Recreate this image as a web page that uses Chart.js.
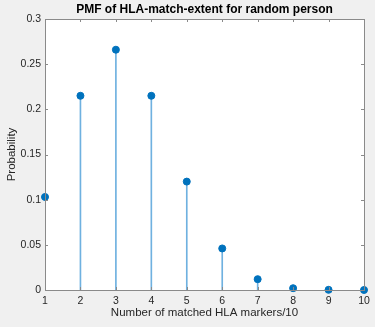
<!DOCTYPE html>
<html>
<head>
<meta charset="utf-8">
<script src="https://cdn.jsdelivr.net/npm/chart.js@4/dist/chart.umd.min.js"></script>
<style>
  html, body { margin: 0; padding: 0; background: #f0f0f0; }
  #wrap { width: 375px; height: 327px; }
</style>
</head>
<body>
<div id="wrap"><canvas id="pmf" width="375" height="327"></canvas></div>
<script>
// matched markers (x) and their probabilities
const markers = [1, 2, 3, 4, 5, 6, 7, 8, 9, 10];
const probs = [0.103, 0.215, 0.266, 0.215, 0.120, 0.046, 0.012, 0.002, 0.0002, 0.00001];
const yTicks = [0, 0.05, 0.1, 0.15, 0.2, 0.25, 0.3];
const titleText = "PMF of HLA-match-extent for random person";

const points = markers.map((m, i) => ({ x: m, y: probs[i] }));

// white plot box, full frame, inward ticks and a title centred on the axes
const axesBox = {
  id: "axesBox",
  beforeDraw(chart) {
    const { ctx, chartArea: a } = chart;
    ctx.save();
    ctx.fillStyle = "#ffffff";
    ctx.fillRect(a.left, a.top, a.right - a.left, a.bottom - a.top);
    ctx.restore();
  },
  afterDatasetsDraw(chart) {
    const { ctx, chartArea: a, scales } = chart;
    ctx.save();
    ctx.strokeStyle = "#8a8a8a";
    ctx.lineWidth = 1;
    ctx.beginPath();
    markers.forEach((m) => {
      const px = Math.round(scales.x.getPixelForValue(m)) + 0.5;
      ctx.moveTo(px, a.bottom);
      ctx.lineTo(px, a.bottom - 3);
      ctx.moveTo(px, a.top);
      ctx.lineTo(px, a.top + 3);
    });
    yTicks.forEach((t) => {
      const py = Math.round(scales.y.getPixelForValue(t)) + 0.5;
      ctx.moveTo(a.left, py);
      ctx.lineTo(a.left + 3, py);
      ctx.moveTo(a.right, py);
      ctx.lineTo(a.right - 3, py);
    });
    ctx.stroke();
    ctx.strokeRect(Math.round(a.left) + 0.5, Math.round(a.top) + 0.5,
      Math.round(a.right - a.left), Math.round(a.bottom - a.top));

    ctx.fillStyle = "#000000";
    ctx.font = "bold 12px 'Liberation Sans'";
    ctx.textAlign = "center";
    ctx.textBaseline = "middle";
    ctx.fillText(titleText, (a.left + a.right) / 2, 10);
    ctx.restore();
  },
};

new Chart(document.getElementById("pmf").getContext("2d"), {
  data: {
    datasets: [
      {
        type: "scatter",
        data: points,
        backgroundColor: "#0072bd",
        borderColor: "#0072bd",
        pointRadius: 3.5,
        pointHoverRadius: 3.5,
        clip: false,
        order: 0,
      },
      {
        type: "bar",
        data: points,
        backgroundColor: "#6fb1e0",
        barThickness: 1,
        order: 1,
      },
    ],
  },
  options: {
    responsive: false,
    animation: false,
    layout: { padding: { left: 0, right: 11, top: 19, bottom: 0 } },
    plugins: {
      legend: { display: false },
      tooltip: { enabled: false },
    },
    scales: {
      x: {
        type: "linear",
        min: 1,
        max: 10,
        offset: false,
        grid: { display: false, drawTicks: false },
        border: { display: false },
        afterFit: (s) => { s.height = 37; },
        ticks: {
          stepSize: 1,
          color: "#262626",
          padding: 5,
          font: { family: "Liberation Sans", size: 10.5 },
        },
        title: {
          display: true,
          text: "Number of matched HLA markers/10",
          color: "#262626",
          font: { family: "Liberation Sans", size: 11.5 },
          padding: { top: 0, bottom: 7 },
        },
      },
      y: {
        min: 0,
        max: 0.3,
        grid: { display: false, drawTicks: false },
        border: { display: false },
        afterBuildTicks: (s) => { s.ticks = yTicks.map((v) => ({ value: v })); },
        afterFit: (s) => { s.width = 45; },
        ticks: {
          color: "#262626",
          padding: 4,
          font: { family: "Liberation Sans", size: 10.5 },
          callback: (v) => String(+v.toFixed(2)),
        },
        title: {
          display: true,
          text: "Probability",
          color: "#262626",
          font: { family: "Liberation Sans", size: 11.5 },
          padding: { top: 5, bottom: 0 },
        },
      },
    },
  },
  plugins: [axesBox],
});
</script>
</body>
</html>
